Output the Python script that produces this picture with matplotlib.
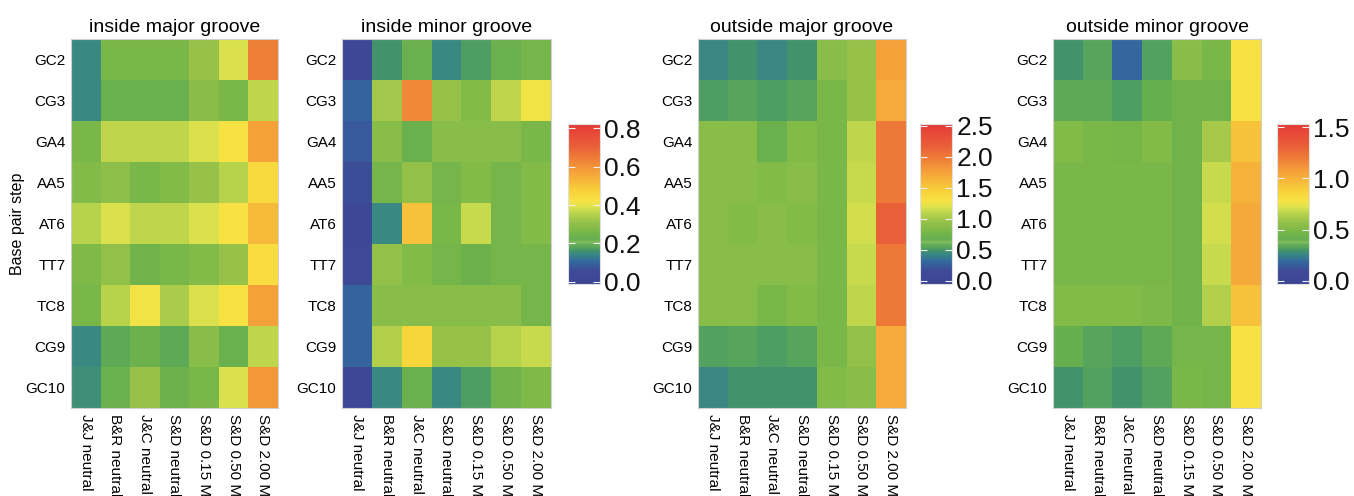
import numpy as np
import matplotlib
matplotlib.use("Agg")
import matplotlib.pyplot as plt
from matplotlib.colors import LinearSegmentedColormap, Normalize

plt.rcParams['font.family'] = ['Liberation Sans', 'DejaVu Sans']

rows = ["GC2", "CG3", "GA4", "AA5", "AT6", "TT7", "TC8", "CG9", "GC10"]
cols = ["J&J neutral", "B&R neutral", "J&C neutral", "S&D neutral",
        "S&D 0.15 M", "S&D 0.50 M", "S&D 2.00 M"]
titles = ["inside major groove", "inside minor groove",
          "outside major groove", "outside minor groove"]

inside_major = [
    [0.147, 0.264, 0.264, 0.264, 0.314, 0.389, 0.639],
    [0.147, 0.230, 0.230, 0.230, 0.289, 0.264, 0.364],
    [0.264, 0.364, 0.364, 0.364, 0.389, 0.422, 0.572],
    [0.280, 0.297, 0.264, 0.280, 0.314, 0.355, 0.447],
    [0.355, 0.389, 0.364, 0.364, 0.389, 0.422, 0.522],
    [0.272, 0.305, 0.247, 0.264, 0.280, 0.314, 0.439],
    [0.264, 0.355, 0.414, 0.339, 0.389, 0.422, 0.572],
    [0.147, 0.188, 0.239, 0.188, 0.289, 0.230, 0.364],
    [0.155, 0.230, 0.314, 0.239, 0.264, 0.389, 0.589],
]
inside_minor = [
    [0.030, 0.163, 0.230, 0.147, 0.172, 0.230, 0.255],
    [0.097, 0.330, 0.623, 0.314, 0.280, 0.364, 0.414],
    [0.080, 0.289, 0.230, 0.289, 0.289, 0.289, 0.264],
    [0.063, 0.255, 0.305, 0.255, 0.280, 0.255, 0.280],
    [0.021, 0.147, 0.506, 0.264, 0.372, 0.255, 0.280],
    [0.038, 0.305, 0.280, 0.255, 0.239, 0.255, 0.255],
    [0.097, 0.289, 0.289, 0.289, 0.289, 0.289, 0.255],
    [0.097, 0.347, 0.464, 0.314, 0.314, 0.355, 0.372],
    [0.030, 0.147, 0.230, 0.147, 0.172, 0.247, 0.272],
]
outside_major = [
    [0.427, 0.490, 0.427, 0.490, 0.879, 0.956, 1.756],
    [0.518, 0.543, 0.518, 0.543, 0.801, 0.956, 1.700],
    [0.879, 0.879, 0.698, 0.853, 0.801, 1.111, 2.014],
    [0.879, 0.879, 0.853, 0.879, 0.801, 1.137, 2.014],
    [0.879, 0.853, 0.879, 0.853, 0.801, 1.163, 2.169],
    [0.879, 0.879, 0.879, 0.879, 0.801, 1.137, 2.014],
    [0.879, 0.879, 0.801, 0.853, 0.801, 1.111, 2.014],
    [0.530, 0.543, 0.518, 0.543, 0.801, 0.930, 1.700],
    [0.427, 0.490, 0.490, 0.490, 0.853, 0.879, 1.700],
]
outside_minor = [
    [0.298, 0.329, 0.188, 0.321, 0.532, 0.485, 0.797],
    [0.344, 0.344, 0.313, 0.407, 0.454, 0.454, 0.781],
    [0.516, 0.485, 0.475, 0.516, 0.454, 0.610, 0.937],
    [0.485, 0.485, 0.485, 0.485, 0.454, 0.688, 0.999],
    [0.485, 0.485, 0.485, 0.485, 0.454, 0.703, 1.031],
    [0.485, 0.485, 0.485, 0.485, 0.454, 0.688, 1.031],
    [0.516, 0.516, 0.516, 0.500, 0.454, 0.641, 0.937],
    [0.407, 0.329, 0.313, 0.344, 0.469, 0.469, 0.781],
    [0.298, 0.321, 0.298, 0.321, 0.485, 0.469, 0.781],
]

cb_ticks_1 = [0.0, 0.2, 0.4, 0.6, 0.8]
cb_ticks_2 = [0.0, 0.5, 1.0, 1.5, 2.0, 2.5]
cb_ticks_3 = [0.0, 0.5, 1.0, 1.5]

nodes = [
    (0.00, "#3b4594"), (0.08, "#3e4a98"), (0.14, "#33699f"), (0.19, "#3a8a80"),
    (0.21, "#43946a"), (0.23, "#5aa85a"), (0.245, "#5fab55"), (0.26, "#86be62"),
    (0.275, "#66af50"), (0.29, "#6ab04e"), (0.33, "#7ab848"), (0.39, "#98c24a"),
    (0.45, "#bfd64c"), (0.48, "#dde24e"), (0.52, "#f8e244"), (0.58, "#f8d23a"),
    (0.70, "#f5a23a"), (0.78, "#ef8037"), (0.86, "#ea6038"), (1.00, "#e43a36"),
]
cmap = LinearSegmentedColormap.from_list("groove", nodes)

W, H = 1354, 496
fig = plt.figure(figsize=(W / 100, H / 100), dpi=100)

def fx(px):
    return px / W

def fy(top, bottom):
    return (H - bottom) / H, (bottom - top) / H

hb, hh = fy(39, 408)
panel_x = [(71, 278), (342, 551), (698, 906), (1053, 1261)]
datas = [inside_major, inside_minor, outside_major, outside_minor]
norms = [Normalize(-0.012, 0.823), Normalize(-0.012, 0.823),
         Normalize(-0.05, 2.53), Normalize(-0.03, 1.53)]

for i, (x0, x1) in enumerate(panel_x):
    ax = fig.add_axes([fx(x0), hb, fx(x1 - x0), hh])
    ax.imshow(np.array(datas[i]), cmap=cmap, norm=norms[i], aspect='auto',
              interpolation='nearest')
    ax.set_xticks(range(len(cols)))
    ax.set_xticklabels(cols, rotation=-90, fontsize=11, va='top', ha='center')
    ax.set_yticks(range(len(rows)))
    ax.set_yticklabels(rows, fontsize=11)
    ax.tick_params(length=0, pad=4)
    for s in ax.spines.values():
        s.set_color("#d0d0d0")
        s.set_linewidth(0.8)
    ax.set_title(titles[i], fontsize=14, pad=5)
    if i == 0:
        ax.set_ylabel("Base pair step", fontsize=11.5)
        ax.yaxis.set_label_coords(-0.222, 0.5)

cb_x = [568, 920, 1277]
cb_norm = [norms[1], norms[2], norms[3]]
cb_ticks = [cb_ticks_1, cb_ticks_2, cb_ticks_3]
cbb, cbh = fy(124, 284)
for j, x0 in enumerate(cb_x):
    cax = fig.add_axes([fx(x0), cbb, fx(32), cbh])
    sm = matplotlib.cm.ScalarMappable(norm=cb_norm[j], cmap=cmap)
    cb = fig.colorbar(sm, cax=cax)
    cb.set_ticks(cb_ticks[j])
    cb.set_ticklabels([f"{t:.1f}" for t in cb_ticks[j]])
    cax.tick_params(direction='in', colors='#f0f0f0', length=5, width=0.8,
                    left=True, right=True, labelsize=19, labelcolor='#111111', pad=3)
    cb.outline.set_edgecolor("#e0e0e0")
    cb.outline.set_linewidth(0.8)

fig.savefig("out.png", dpi=100)
